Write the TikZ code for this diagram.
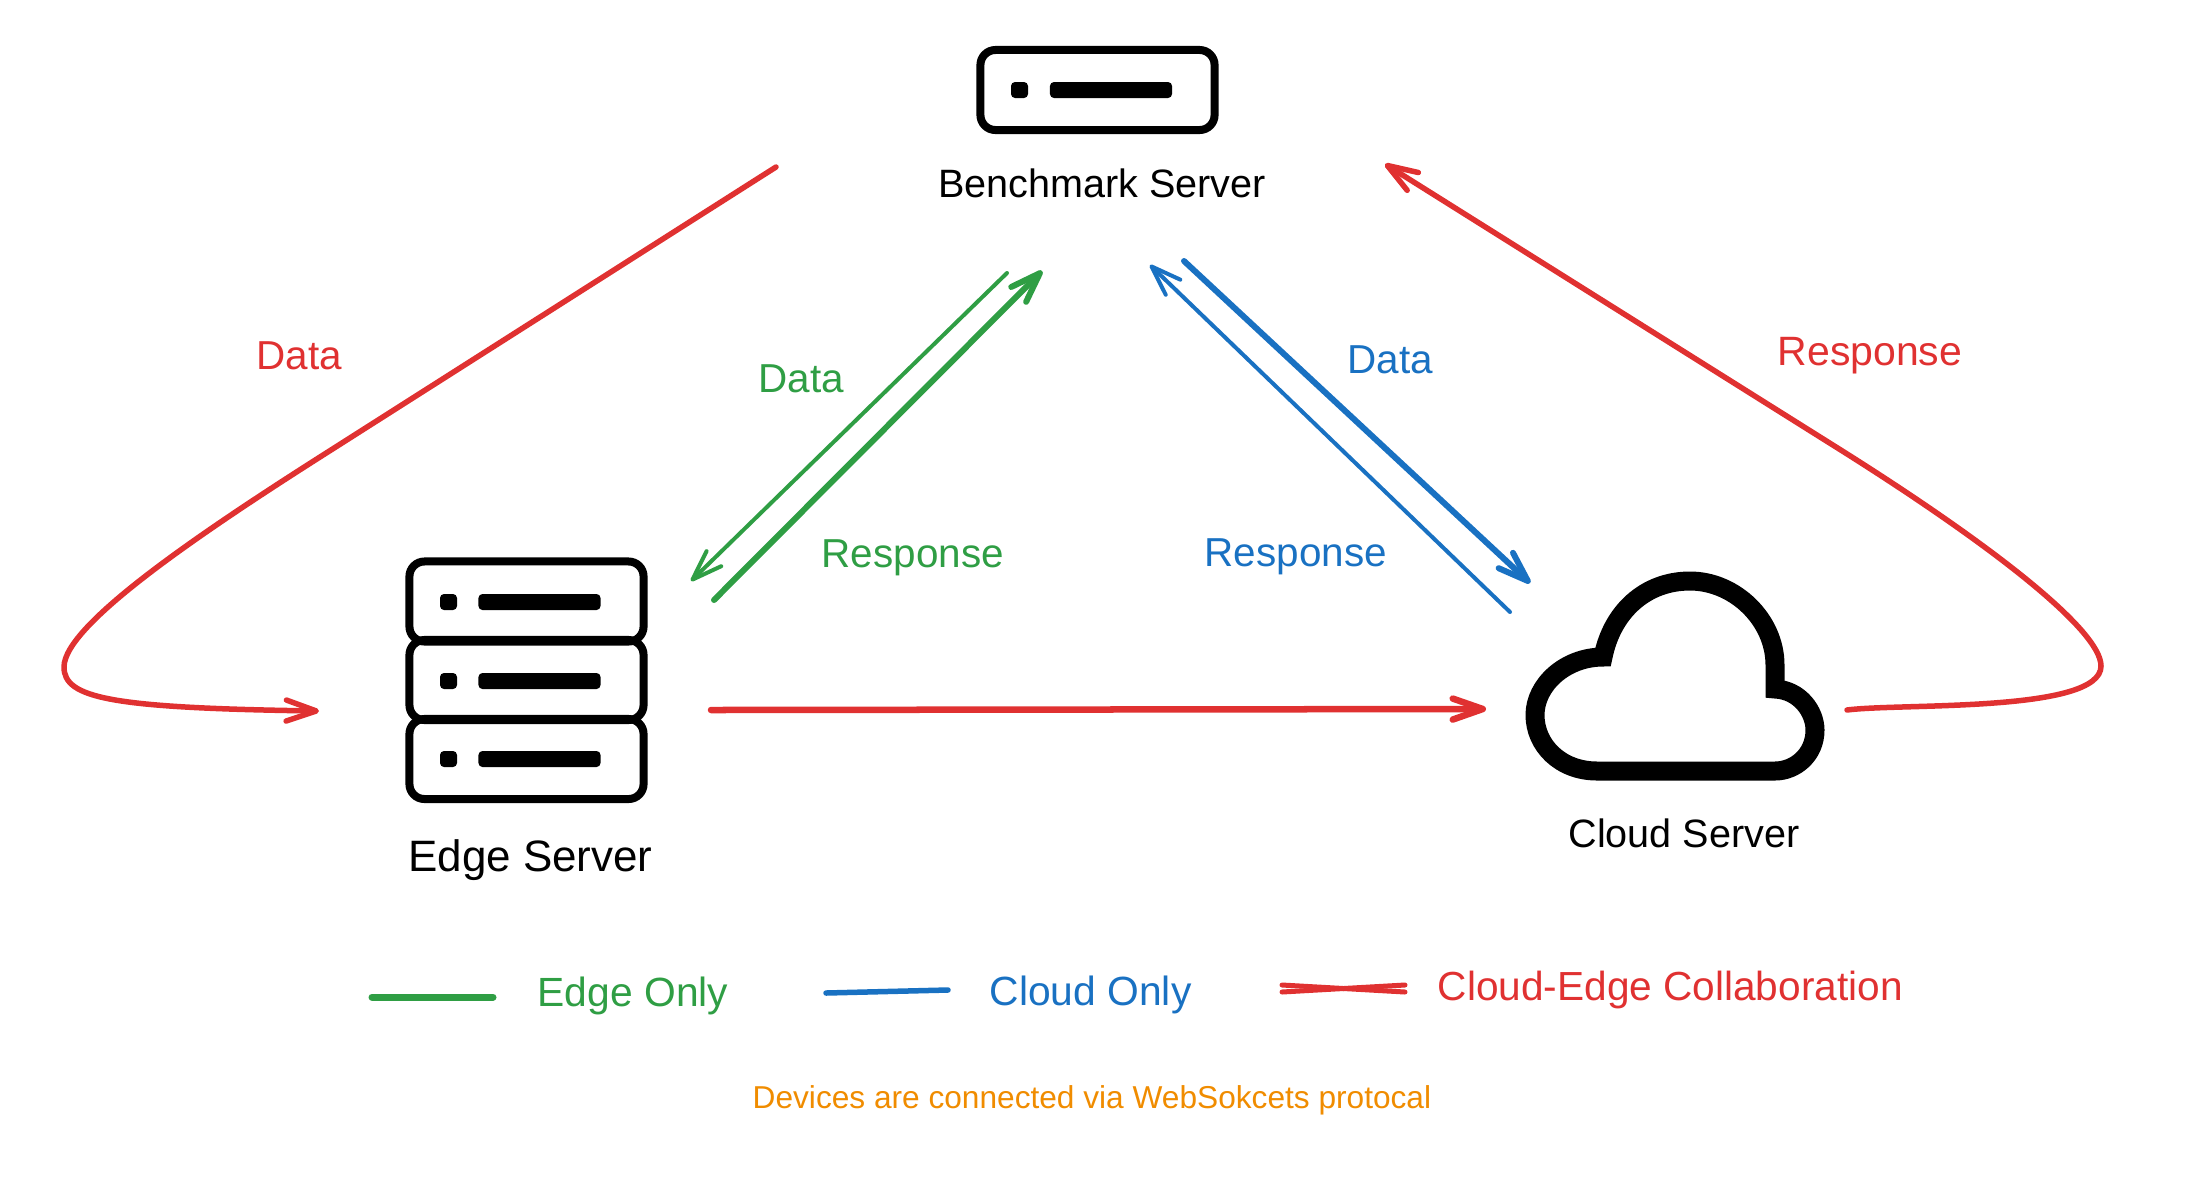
\documentclass[tikz,border=0pt]{standalone}
\usepackage{fontspec}
\setmainfont{Liberation Sans}
\usepackage{tikz}
\usetikzlibrary{arrows.meta}
\definecolor{edgegreen}{HTML}{2F9E44}
\definecolor{cloudblue}{HTML}{1971C2}
\definecolor{collabred}{HTML}{E03131}
\definecolor{noteorange}{HTML}{F08C00}
\tikzstyle{serverbox} = [rectangle, rounded corners=0.15cm, minimum width=2.34cm, minimum height=0.8cm, inner sep=0pt, draw=black, line width=0.08cm]
\tikzstyle{serverled} = [rectangle, rounded corners=0.04cm, minimum width=0.17cm, minimum height=0.16cm, inner sep=0pt, fill=black]
\tikzstyle{serverbar} = [rectangle, rounded corners=0.04cm, minimum width=1.22cm, minimum height=0.16cm, inner sep=0pt, fill=black]
\tikzstyle{servername} = [inner sep=0pt, anchor=base, text=black, font=\fontsize{11.25}{13}\selectfont]
\tikzstyle{flowtext} = [inner sep=0pt, anchor=base west, font=\fontsize{11.5}{13}\selectfont]
\tikzstyle{wire} = [line cap=round, line join=round]
\tikzstyle{arrow} = [wire, ->, >={Straight Barb[round,length=0.3cm,width=0.21cm]}]

\begin{document}
\begin{tikzpicture}[x=0.01cm, y=-0.01cm]
\useasboundingbox (0,0) rectangle (2200,1187);

% benchmark server
\node (benchmark) [serverbox] at (1097.5,90) {};
\node (benchmarkled) [serverled] at (1019.5,90) {};
\node (benchmarkbar) [serverbar] at (1111,90) {};
\node (benchmarkname) [servername, below of=benchmark, node distance=1.07cm, xshift=0.045cm, anchor=base] {Benchmark Server};

% edge server
\node (edgetop) [serverbox] at (526.5,601.5) {};
\node (edgemid) [serverbox] at (526.5,680) {};
\node (edgelow) [serverbox] at (526.5,759) {};
\node (edgetopled) [serverled] at (448.5,602) {};
\node (edgetopbar) [serverbar] at (539.5,602) {};
\node (edgemidled) [serverled] at (448.5,681) {};
\node (edgemidbar) [serverbar] at (539.5,681) {};
\node (edgelowled) [serverled] at (448.5,759) {};
\node (edgelowbar) [serverbar] at (539.5,759) {};
\node (edgename) [servername, font=\fontsize{12.5}{14}\selectfont, below of=edgelow, node distance=1.12cm, xshift=0.04cm, anchor=base] {Edge Server};

% cloud server
\draw [line width=0.19cm, line join=miter] (1597,771) .. controls (1560,771) and (1535,745) .. (1535,715)
  .. controls (1535,685) and (1565,657) .. (1603,657)
  .. controls (1612,612) and (1645,581) .. (1690,581)
  .. controls (1735,581) and (1775,620) .. (1775,665) -- (1775,689)
  .. controls (1800,690) and (1815,712) .. (1815,730)
  .. controls (1815,755) and (1795,771) .. (1775,771) -- cycle;
\node (cloudname) [servername] at (1684,847) {Cloud Server};

% free ends of the connectors
\coordinate (edgedatastart) at (1007,273);
\coordinate (edgedataend) at (691,581);
\coordinate (edgerespstart) at (714,600);
\coordinate (edgerespend) at (1042,271);
\coordinate (clouddatastart) at (1184,261);
\coordinate (clouddataend) at (1530,583);
\coordinate (cloudrespstart) at (1510,612);
\coordinate (cloudrespend) at (1150,265);
\coordinate (edgeout) at (711,710);
\coordinate (cloudin) at (1486,709);
\coordinate (benchmarkout) at (776,167);
\coordinate (benchmarkin) at (1385,164);
\coordinate (edgein) at (319,711);
\coordinate (cloudout) at (1847,710);

\draw [arrow, line width=0.04cm, edgegreen] (edgedatastart) -- (edgedataend);
\draw [arrow, line width=0.06cm, edgegreen] (edgerespstart) -- (edgerespend);
\draw [arrow, line width=0.06cm, cloudblue] (clouddatastart) -- (clouddataend);
\draw [arrow, line width=0.04cm, cloudblue] (cloudrespstart) -- (cloudrespend);
\draw [arrow, line width=0.065cm, collabred] (edgeout) -- (cloudin);
\draw [arrow, line width=0.055cm, collabred] (benchmarkout) -- (331,450)
  .. controls (200,533) and (64,625) .. (64,667)
  .. controls (64,698) and (110,708) .. (edgein);
\draw [arrow, line width=0.055cm, collabred] (cloudout)
  .. controls (1900,703) and (2101,713) .. (2101,666)
  .. controls (2101,630) and (1990,543) .. (1828,442) -- (benchmarkin);

% flow labels
\node (datared) [flowtext, text=collabred] at (256,369) {Data};
\node (dataedge) [flowtext, text=edgegreen] at (758,392) {Data};
\node (respedge) [flowtext, text=edgegreen] at (821,567) {Response};
\node (datacloud) [flowtext, text=cloudblue] at (1347,373) {Data};
\node (respcloud) [flowtext, text=cloudblue] at (1204,566) {Response};
\node (respred) [flowtext, text=collabred, font=\fontsize{11.65}{13}\selectfont] at (1777,365) {Response};

% legend
\coordinate (greenleft) at (372,997);
\coordinate (greenright) at (493,997);
\coordinate (blueleft) at (826,993);
\coordinate (blueright) at (948,990);
\coordinate (redlefta) at (1282,992);
\coordinate (redrighta) at (1405,985);
\coordinate (redleftb) at (1282,985);
\coordinate (redrightb) at (1405,992);
\draw [wire, line width=0.07cm, edgegreen] (greenleft) -- (greenright);
\draw [wire, line width=0.055cm, cloudblue] (blueleft) -- (blueright);
\draw [wire, line width=0.05cm, collabred] (redlefta) -- (redrighta);
\draw [wire, line width=0.05cm, collabred] (redleftb) -- (redrightb);
\node (legendedge) [flowtext, text=edgegreen, font=\fontsize{11.6}{13}\selectfont] at (537,1006) {Edge Only};
\node (legendcloud) [flowtext, text=cloudblue, font=\fontsize{11.6}{13}\selectfont] at (989,1005) {Cloud Only};
\node (legendcollab) [flowtext, text=collabred, font=\fontsize{11.55}{13}\selectfont] at (1437,1000) {Cloud-Edge Collaboration};
\node (protonote) [flowtext, text=noteorange, font=\fontsize{9}{11}\selectfont] at (752,1108) {Devices are connected via WebSokcets protocal};
\end{tikzpicture}
\end{document}
